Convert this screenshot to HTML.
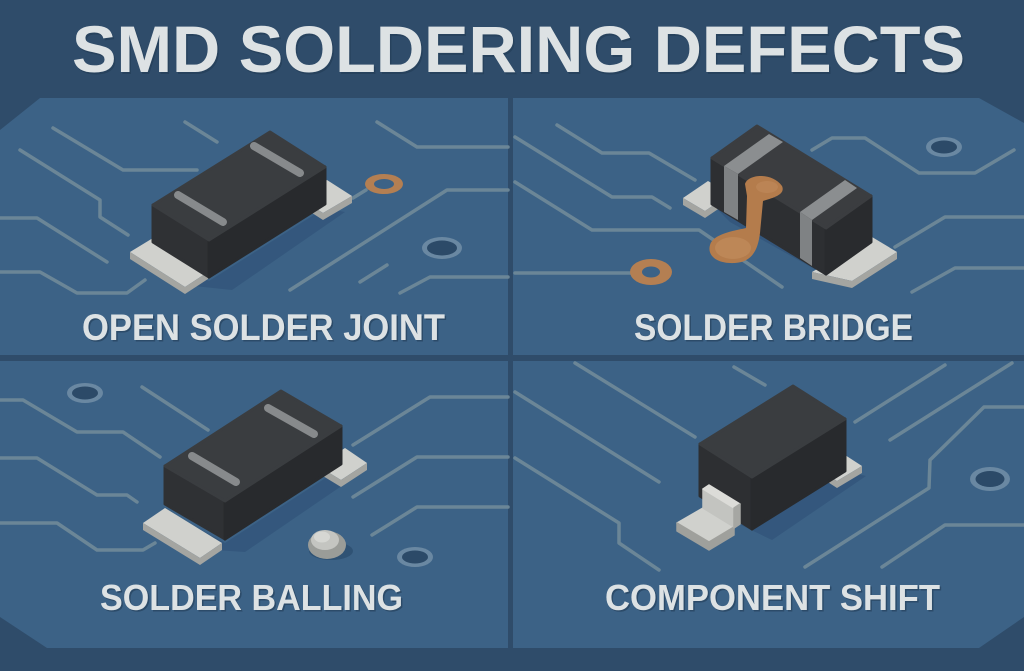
<!DOCTYPE html>
<html><head><meta charset="utf-8"><style>
html,body{margin:0;padding:0;background:#2f4c6a;}
svg{display:block;}
text{font-family:"Liberation Sans",Arial,sans-serif;font-weight:bold;}
</style></head><body>
<svg width="1024" height="671" viewBox="0 0 1024 671" xmlns="http://www.w3.org/2000/svg">
<rect x="0" y="0" width="1024" height="671" fill="#2f4c6a"/>
<!-- panels -->
<polygon points="0,130 40,98 508,98 508,355 0,355" fill="#3c6286"/>
<polygon points="513,98 979,98 1024,123 1024,355 513,355" fill="#3c6286"/>
<polygon points="0,361 508,361 508,648 47,648 0,617" fill="#3c6286"/>
<polygon points="513,361 1024,361 1024,617 979,648 513,648" fill="#3c6286"/>

<!-- traces -->
<g fill="none" stroke="#6b8697" stroke-width="3.5" stroke-linecap="round" stroke-linejoin="round">
<polyline points="53,128 123,170 197,170"/>
<polyline points="185,122 217,142"/>
<polyline points="20,150 100,200 100,217 128,235"/>
<polyline points="0,218 37,218 107,262"/>
<polyline points="0,272 40,272 77,293 127,293 145,280"/>
<polyline points="377,122 417,147 508,147"/>
<polyline points="353,198 366,190"/>
<polyline points="290,290 447,190 508,190"/>
<polyline points="360,282 387,265"/>
<polyline points="400,293 430,277 508,277"/>

<polyline points="557,125 602,153 649,153 695,180"/>
<polyline points="515,137 612,197 652,197 670,208"/>
<polyline points="515,182 592,230 699,230 782,287"/>
<polyline points="515,273 632,273"/>
<polyline points="812,150 832,138 865,138 919,173 975,173 1014,150"/>
<polyline points="895,247 945,217 1024,217"/>
<polyline points="912,292 955,268 1024,268"/>

<polyline points="0,400 23,400 77,432 123,432 160,457"/>
<polyline points="142,387 208,430"/>
<polyline points="0,458 37,458 97,495 127,495 137,502"/>
<polyline points="0,523 57,523 97,550 143,550 155,543"/>
<polyline points="353,445 430,397 508,397"/>
<polyline points="353,497 417,457 508,457"/>
<polyline points="372,535 417,507 508,507"/>

<polyline points="575,363 695,437"/>
<polyline points="734,367 765,385"/>
<polyline points="515,392 659,482"/>
<polyline points="515,458 619,523 619,543 659,570"/>
<polyline points="855,422 945,365"/>
<polyline points="890,440 1012,363"/>
<polyline points="805,567 929,488 930,460 984,407 1024,407"/>
<polyline points="882,567 945,525 1024,525"/>
</g>

<!-- vias -->
<g>
<ellipse cx="442" cy="248" rx="20" ry="11" fill="#6a88a2"/>
<ellipse cx="442" cy="248" rx="15" ry="7.5" fill="#2c4a68"/>
<ellipse cx="944" cy="147" rx="18" ry="10" fill="#6a88a2"/>
<ellipse cx="944" cy="147" rx="13" ry="6.5" fill="#2c4a68"/>
<ellipse cx="85" cy="393" rx="18" ry="10" fill="#6a88a2"/>
<ellipse cx="85" cy="393" rx="13" ry="6.5" fill="#2c4a68"/>
<ellipse cx="415" cy="557" rx="18" ry="10" fill="#6a88a2"/>
<ellipse cx="415" cy="557" rx="13" ry="6.5" fill="#2c4a68"/>
<ellipse cx="990" cy="479" rx="20" ry="12" fill="#6a88a2"/>
<ellipse cx="990" cy="479" rx="14.5" ry="8" fill="#2c4a68"/>
</g>
<!-- copper rings -->
<ellipse cx="384" cy="184" rx="19" ry="10" fill="#b47f52"/>
<ellipse cx="384" cy="184" rx="10" ry="5" fill="#3c6286"/>
<ellipse cx="651" cy="272" rx="21" ry="13" fill="#b47f52"/>
<ellipse cx="651" cy="272" rx="9" ry="5.5" fill="#3c6286"/>

<!-- ===== Panel 1 component ===== -->
<polygon points="150,246 209,281 325,208 345,212 232,290 175,284" fill="#32557a" opacity="0.8"/>
<polygon points="130,252 153,238 208,272 185,287" fill="#d0d1cd"/>
<polygon points="130,252 130,259 185,294 208,279 208,272 185,287" fill="#a4a5a1"/>
<polygon points="298,197 327,180 352,196 323,213" fill="#d0d1cd"/>
<polygon points="323,213 352,196 352,203 323,220 298,204 298,197" fill="#a4a5a1"/>
<g stroke-linejoin="round" stroke-width="3">
<polygon points="153,205 209,240 209,277 153,242" fill="#2f3134" stroke="#2f3134"/>
<polygon points="209,240 325,167 325,204 209,277" fill="#282a2d" stroke="#282a2d"/>
<polygon points="153,205 270,132 325,167 209,240" fill="#3a3d40" stroke="#3a3d40"/>
</g>
<g stroke="#878a8c" stroke-width="8" stroke-linecap="round">
<line x1="178" y1="195" x2="223" y2="222"/>
<line x1="254" y1="146" x2="300" y2="173"/>
</g>

<!-- ===== Panel 2 component ===== -->
<polygon points="712,204 826,274 871,242 892,250 845,286 730,222" fill="#32557a" opacity="0.8"/>
<polygon points="683,198 708,181 730,194 705,211" fill="#d0d1cd"/>
<polygon points="683,198 683,205 705,218 730,201 730,194 705,211" fill="#a4a5a1"/>
<polygon points="812,272 872,237 897,252 852,281" fill="#d0d1cd"/>
<polygon points="812,272 812,279 852,288 897,259 897,252 852,281" fill="#a4a5a1"/>
<g stroke-linejoin="round" stroke-width="3">
<polygon points="712,158 826,228 826,274 712,204" fill="#2d2f32" stroke="#2d2f32"/>
<polygon points="826,228 871,196 871,242 826,274" fill="#292b2e" stroke="#292b2e"/>
<polygon points="712,158 757,126 871,196 826,228" fill="#3b3d40" stroke="#3b3d40"/>
</g>
<!-- stripes -->
<polygon points="724,166 738,174 783,142 769,134" fill="#8b8e90"/>
<polygon points="724,166 738,174 738,220 724,212" fill="#7f8284"/>
<polygon points="800,212 812,220 857,188 845,180" fill="#8b8e90"/>
<polygon points="800,212 812,220 812,266 800,258" fill="#7f8284"/>
<!-- solder bridge -->
<path d="M745,184 C748,174 772,172 782,186 C786,195 772,198 763,201 L760,233 C758,250 752,262 735,263 C716,264 707,255 710,245 C713,234 733,231 746,228 L747,196 Z" fill="#b47c4c"/>
<ellipse cx="733" cy="248" rx="18" ry="11" fill="#c08b5c" opacity="0.7"/>
<ellipse cx="767" cy="187" rx="11" ry="6" fill="#c08b5c" opacity="0.6"/>

<!-- ===== Panel 3 component ===== -->
<polygon points="162,508 225,543 341,468 362,472 245,552 185,548" fill="#32557a" opacity="0.8"/>
<polygon points="143,523 165,508 222,543 200,558" fill="#d0d1cd"/>
<polygon points="143,523 143,530 200,565 222,550 222,543 200,558" fill="#a4a5a1"/>
<polygon points="318,466 345,448 367,463 341,480" fill="#d0d1cd"/>
<polygon points="318,466 318,473 341,487 367,470 367,463 341,480" fill="#a4a5a1"/>
<g stroke-linejoin="round" stroke-width="3">
<polygon points="165,466 225,501 225,539 165,504" fill="#2f3134" stroke="#2f3134"/>
<polygon points="225,501 341,426 341,464 225,539" fill="#282a2d" stroke="#282a2d"/>
<polygon points="165,466 281,391 341,426 225,501" fill="#3a3d40" stroke="#3a3d40"/>
</g>
<g stroke="#878a8c" stroke-width="8" stroke-linecap="round">
<line x1="192" y1="456" x2="236" y2="482"/>
<line x1="268" y1="408" x2="314" y2="434"/>
</g>
<!-- solder ball -->
<ellipse cx="331" cy="551" rx="22" ry="9" fill="#2f5274"/>
<ellipse cx="327" cy="545" rx="19" ry="14" fill="#9a9c98"/>
<ellipse cx="325" cy="540" rx="14" ry="10" fill="#c4c5c1"/>
<ellipse cx="322" cy="537" rx="8" ry="5.5" fill="#d6d7d3"/>

<!-- ===== Panel 4 component ===== -->
<polygon points="700,496 752,529 845,471 866,476 772,540 720,515" fill="#32557a" opacity="0.8"/>
<polygon points="820,470 845,455 862,466 837,481" fill="#d0d1cd"/>
<polygon points="820,470 820,477 837,488 862,473 862,466 837,481" fill="#a4a5a1"/>
<g stroke-linejoin="round" stroke-width="3">
<polygon points="700,444 752,477 752,529 700,496" fill="#2d2f32" stroke="#2d2f32"/>
<polygon points="752,477 845,419 845,471 752,529" fill="#282a2d" stroke="#282a2d"/>
<polygon points="700,444 793,386 845,419 752,477" fill="#3a3d40" stroke="#3a3d40"/>
</g>
<!-- bracket pad -->
<g stroke-linejoin="round" stroke-width="1.5">
<polygon points="677,523 703,508 734,527 709,542" fill="#d0d1cd" stroke="#d0d1cd"/>
<polygon points="677,523 677,531 709,550 734,535 734,527 709,542" fill="#9fa09c" stroke="#9fa09c"/>
<polygon points="703,489 734,508 734,527 703,508" fill="#c3c4c0" stroke="#c3c4c0"/>
<polygon points="703,489 709,485 740,504 734,508" fill="#dcdcd8" stroke="#dcdcd8"/>
<polygon points="734,508 740,504 740,524 734,528" fill="#a6a7a3" stroke="#a6a7a3"/>
</g>

<!-- text -->
<g fill="#223c56" opacity="0.6">
<text x="73.5" y="74" font-size="66" textLength="893" lengthAdjust="spacingAndGlyphs">SMD SOLDERING DEFECTS</text>
<text x="83.5" y="341.5" font-size="37" textLength="363" lengthAdjust="spacingAndGlyphs">OPEN SOLDER JOINT</text>
<text x="635.5" y="341.5" font-size="37" textLength="279" lengthAdjust="spacingAndGlyphs">SOLDER BRIDGE</text>
<text x="101.5" y="611.5" font-size="36" textLength="303" lengthAdjust="spacingAndGlyphs">SOLDER BALLING</text>
<text x="606.5" y="611.5" font-size="36" textLength="335" lengthAdjust="spacingAndGlyphs">COMPONENT SHIFT</text>
</g>
<g fill="#dde2e4">
<text x="72" y="72" font-size="66" textLength="893" lengthAdjust="spacingAndGlyphs">SMD SOLDERING DEFECTS</text>
<text x="82" y="340" font-size="37" textLength="363" lengthAdjust="spacingAndGlyphs">OPEN SOLDER JOINT</text>
<text x="634" y="340" font-size="37" textLength="279" lengthAdjust="spacingAndGlyphs">SOLDER BRIDGE</text>
<text x="100" y="610" font-size="36" textLength="303" lengthAdjust="spacingAndGlyphs">SOLDER BALLING</text>
<text x="605" y="610" font-size="36" textLength="335" lengthAdjust="spacingAndGlyphs">COMPONENT SHIFT</text>
</g>
</svg>
</body></html>
